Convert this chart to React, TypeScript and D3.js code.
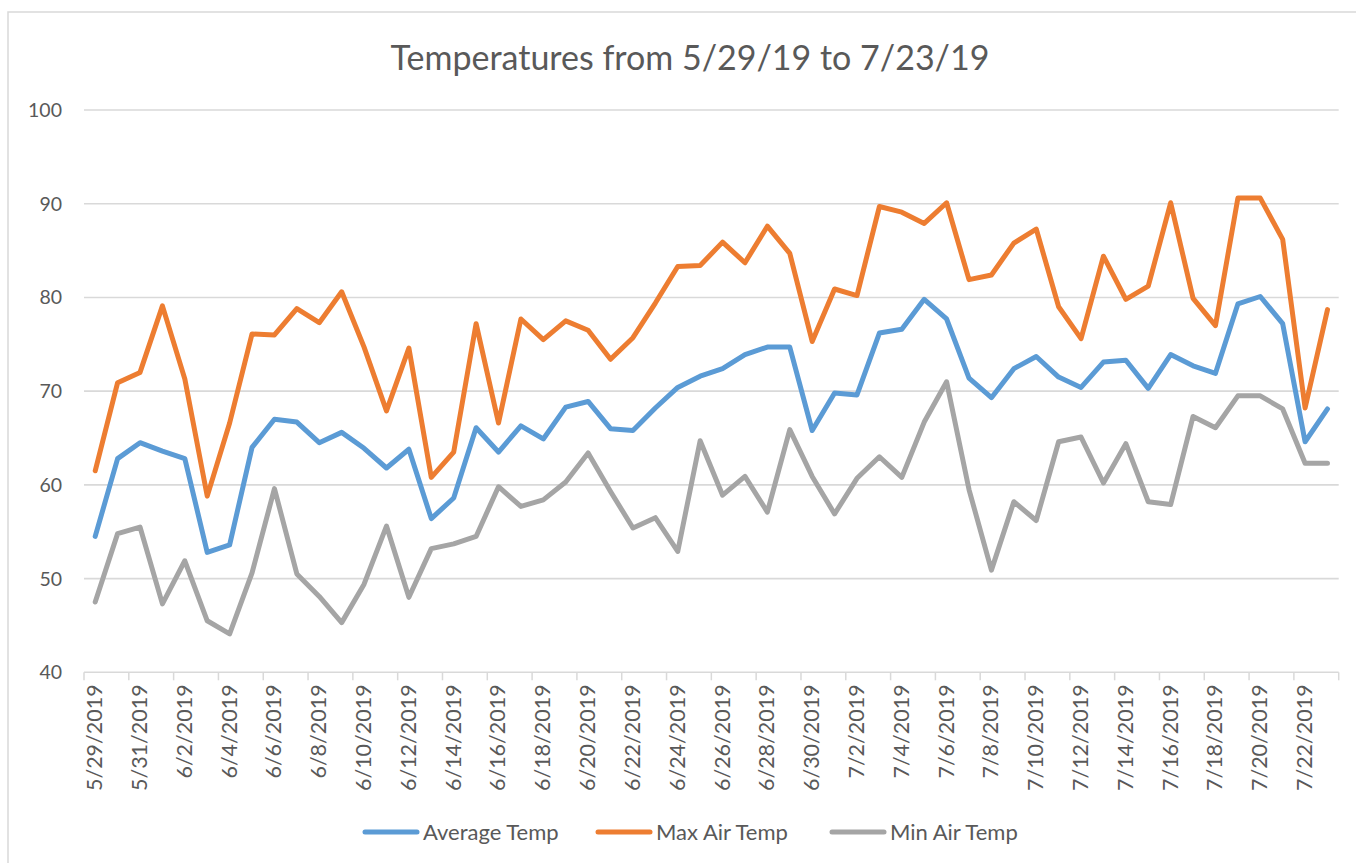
import React from "react"
import * as d3 from "d3"

const dates = [
  "5/29/2019", "5/30/2019", "5/31/2019", "6/1/2019", "6/2/2019", "6/3/2019", "6/4/2019", "6/5/2019",
  "6/6/2019", "6/7/2019", "6/8/2019", "6/9/2019", "6/10/2019", "6/11/2019", "6/12/2019", "6/13/2019",
  "6/14/2019", "6/15/2019", "6/16/2019", "6/17/2019", "6/18/2019", "6/19/2019", "6/20/2019", "6/21/2019",
  "6/22/2019", "6/23/2019", "6/24/2019", "6/25/2019", "6/26/2019", "6/27/2019", "6/28/2019", "6/29/2019",
  "6/30/2019", "7/1/2019", "7/2/2019", "7/3/2019", "7/4/2019", "7/5/2019", "7/6/2019", "7/7/2019",
  "7/8/2019", "7/9/2019", "7/10/2019", "7/11/2019", "7/12/2019", "7/13/2019", "7/14/2019", "7/15/2019",
  "7/16/2019", "7/17/2019", "7/18/2019", "7/19/2019", "7/20/2019", "7/21/2019", "7/22/2019", "7/23/2019",
]

const avgTemp = [
  54.5, 62.8, 64.5, 63.6, 62.8, 52.8, 53.6, 64.0, 67.0, 66.7, 64.5, 65.6, 63.9, 61.8, 63.8, 56.4,
  58.6, 66.1, 63.5, 66.3, 64.9, 68.3, 68.9, 66.0, 65.8, 68.2, 70.4, 71.6, 72.4, 73.9, 74.7, 74.7,
  65.8, 69.8, 69.6, 76.2, 76.6, 79.8, 77.7, 71.4, 69.3, 72.4, 73.7, 71.5, 70.4, 73.1, 73.3, 70.3,
  73.9, 72.7, 71.9, 79.3, 80.1, 77.2, 64.6, 68.1,
]

const maxTemp = [
  61.5, 70.9, 72.0, 79.1, 71.3, 58.8, 66.6, 76.1, 76.0, 78.8, 77.3, 80.6, 74.7, 67.9, 74.6, 60.8,
  63.5, 77.2, 66.6, 77.7, 75.5, 77.5, 76.5, 73.4, 75.7, 79.4, 83.3, 83.4, 85.9, 83.7, 87.6, 84.7,
  75.3, 80.9, 80.2, 89.7, 89.1, 87.9, 90.1, 81.9, 82.4, 85.8, 87.3, 79.0, 75.6, 84.4, 79.8, 81.2,
  90.1, 79.9, 77.0, 90.6, 90.6, 86.2, 68.2, 78.7,
]

const minTemp = [
  47.5, 54.8, 55.5, 47.3, 51.9, 45.5, 44.1, 50.6, 59.6, 50.5, 48.1, 45.3, 49.4, 55.6, 48.0, 53.2,
  53.7, 54.5, 59.8, 57.7, 58.4, 60.3, 63.4, 59.3, 55.4, 56.5, 52.9, 64.7, 58.9, 60.9, 57.1, 65.9,
  60.9, 56.9, 60.7, 63.0, 60.8, 66.7, 71.0, 59.5, 50.9, 58.2, 56.2, 64.6, 65.1, 60.2, 64.4, 58.2,
  57.9, 67.3, 66.1, 69.5, 69.5, 68.1, 62.3, 62.3,
]

const yTicks = [40, 50, 60, 70, 80, 90, 100]

const series = [
  { name: "Average Temp", values: avgTemp, color: "#5B9BD5" },
  { name: "Max Air Temp", values: maxTemp, color: "#ED7D31" },
  { name: "Min Air Temp", values: minTemp, color: "#A5A5A5" },
]

const W = 1356
const H = 863
const left = 84
const right = 1338.7
const top = 110
const bottom = 672.3
const font = "Lato, 'Open Sans', sans-serif"
const textColor = "#595959"
const gridColor = "#D9D9D9"

export default function App() {
  const x = d3.scaleBand<string>().domain(dates).range([left, right]).padding(0)
  const y = d3.scaleLinear().domain([40, 100]).range([bottom, top])
  const cx = (d: string) => (x(d) ?? 0) + x.bandwidth() / 2

  const line = d3
    .line<number>()
    .x((_, i) => cx(dates[i]))
    .y(v => y(v))

  // tick marks sit between categories, one every two days
  const tickBounds = dates.filter((_, i) => i % 2 === 0).map(d => x(d) ?? 0).concat([right])

  const legendX = [365, 598, 832]

  return (
    <div style={{ position: "absolute", left: 0, top: 0 }}>
      <svg width={W} height={H} style={{ display: "block" }}>
        <rect x={0} y={0} width={W} height={H} fill="#fff" />
        <rect x={8} y={12} width={W + 20} height={H + 20} fill="none" stroke={gridColor} strokeWidth={1.5} />

        <text x={690} y={70} textAnchor="middle" fontFamily={font} fontSize={34} fill={textColor}>
          Temperatures from 5/29/19 to 7/23/19
        </text>

        {yTicks.map(t => (
          <g key={t}>
            <line x1={left} x2={right} y1={y(t)} y2={y(t)} stroke={gridColor} strokeWidth={1.6} />
            <text
              x={62}
              y={y(t)}
              dy="0.36em"
              textAnchor="end"
              fontFamily={font}
              fontSize={19.5}
              fill={textColor}
            >
              {t}
            </text>
          </g>
        ))}

        {tickBounds.map((tx, i) => (
          <line key={i} x1={tx} x2={tx} y1={bottom} y2={bottom + 8} stroke={gridColor} strokeWidth={1.5} />
        ))}

        {dates.map((d, i) =>
          i % 2 === 0 ? (
            <text
              key={d}
              transform={`translate(${cx(d) + 7},${bottom + 12}) rotate(-90)`}
              textAnchor="end"
              fontFamily={font}
              fontSize={21.5}
              fill={textColor}
            >
              {d}
            </text>
          ) : null
        )}

        {series.map(s => (
          <path
            key={s.name}
            d={line(s.values) ?? ""}
            fill="none"
            stroke={s.color}
            strokeWidth={5}
            strokeLinejoin="round"
            strokeLinecap="round"
          />
        ))}

        {series.map((s, i) => (
          <g key={s.name} transform={`translate(${legendX[i]},832)`}>
            <line x1={0} x2={52} y1={0} y2={0} stroke={s.color} strokeWidth={5} strokeLinecap="round" />
            <text x={58} y={0} dy="0.36em" fontFamily={font} fontSize={22} fill={textColor}>
              {s.name}
            </text>
          </g>
        ))}
      </svg>
    </div>
  )
}
